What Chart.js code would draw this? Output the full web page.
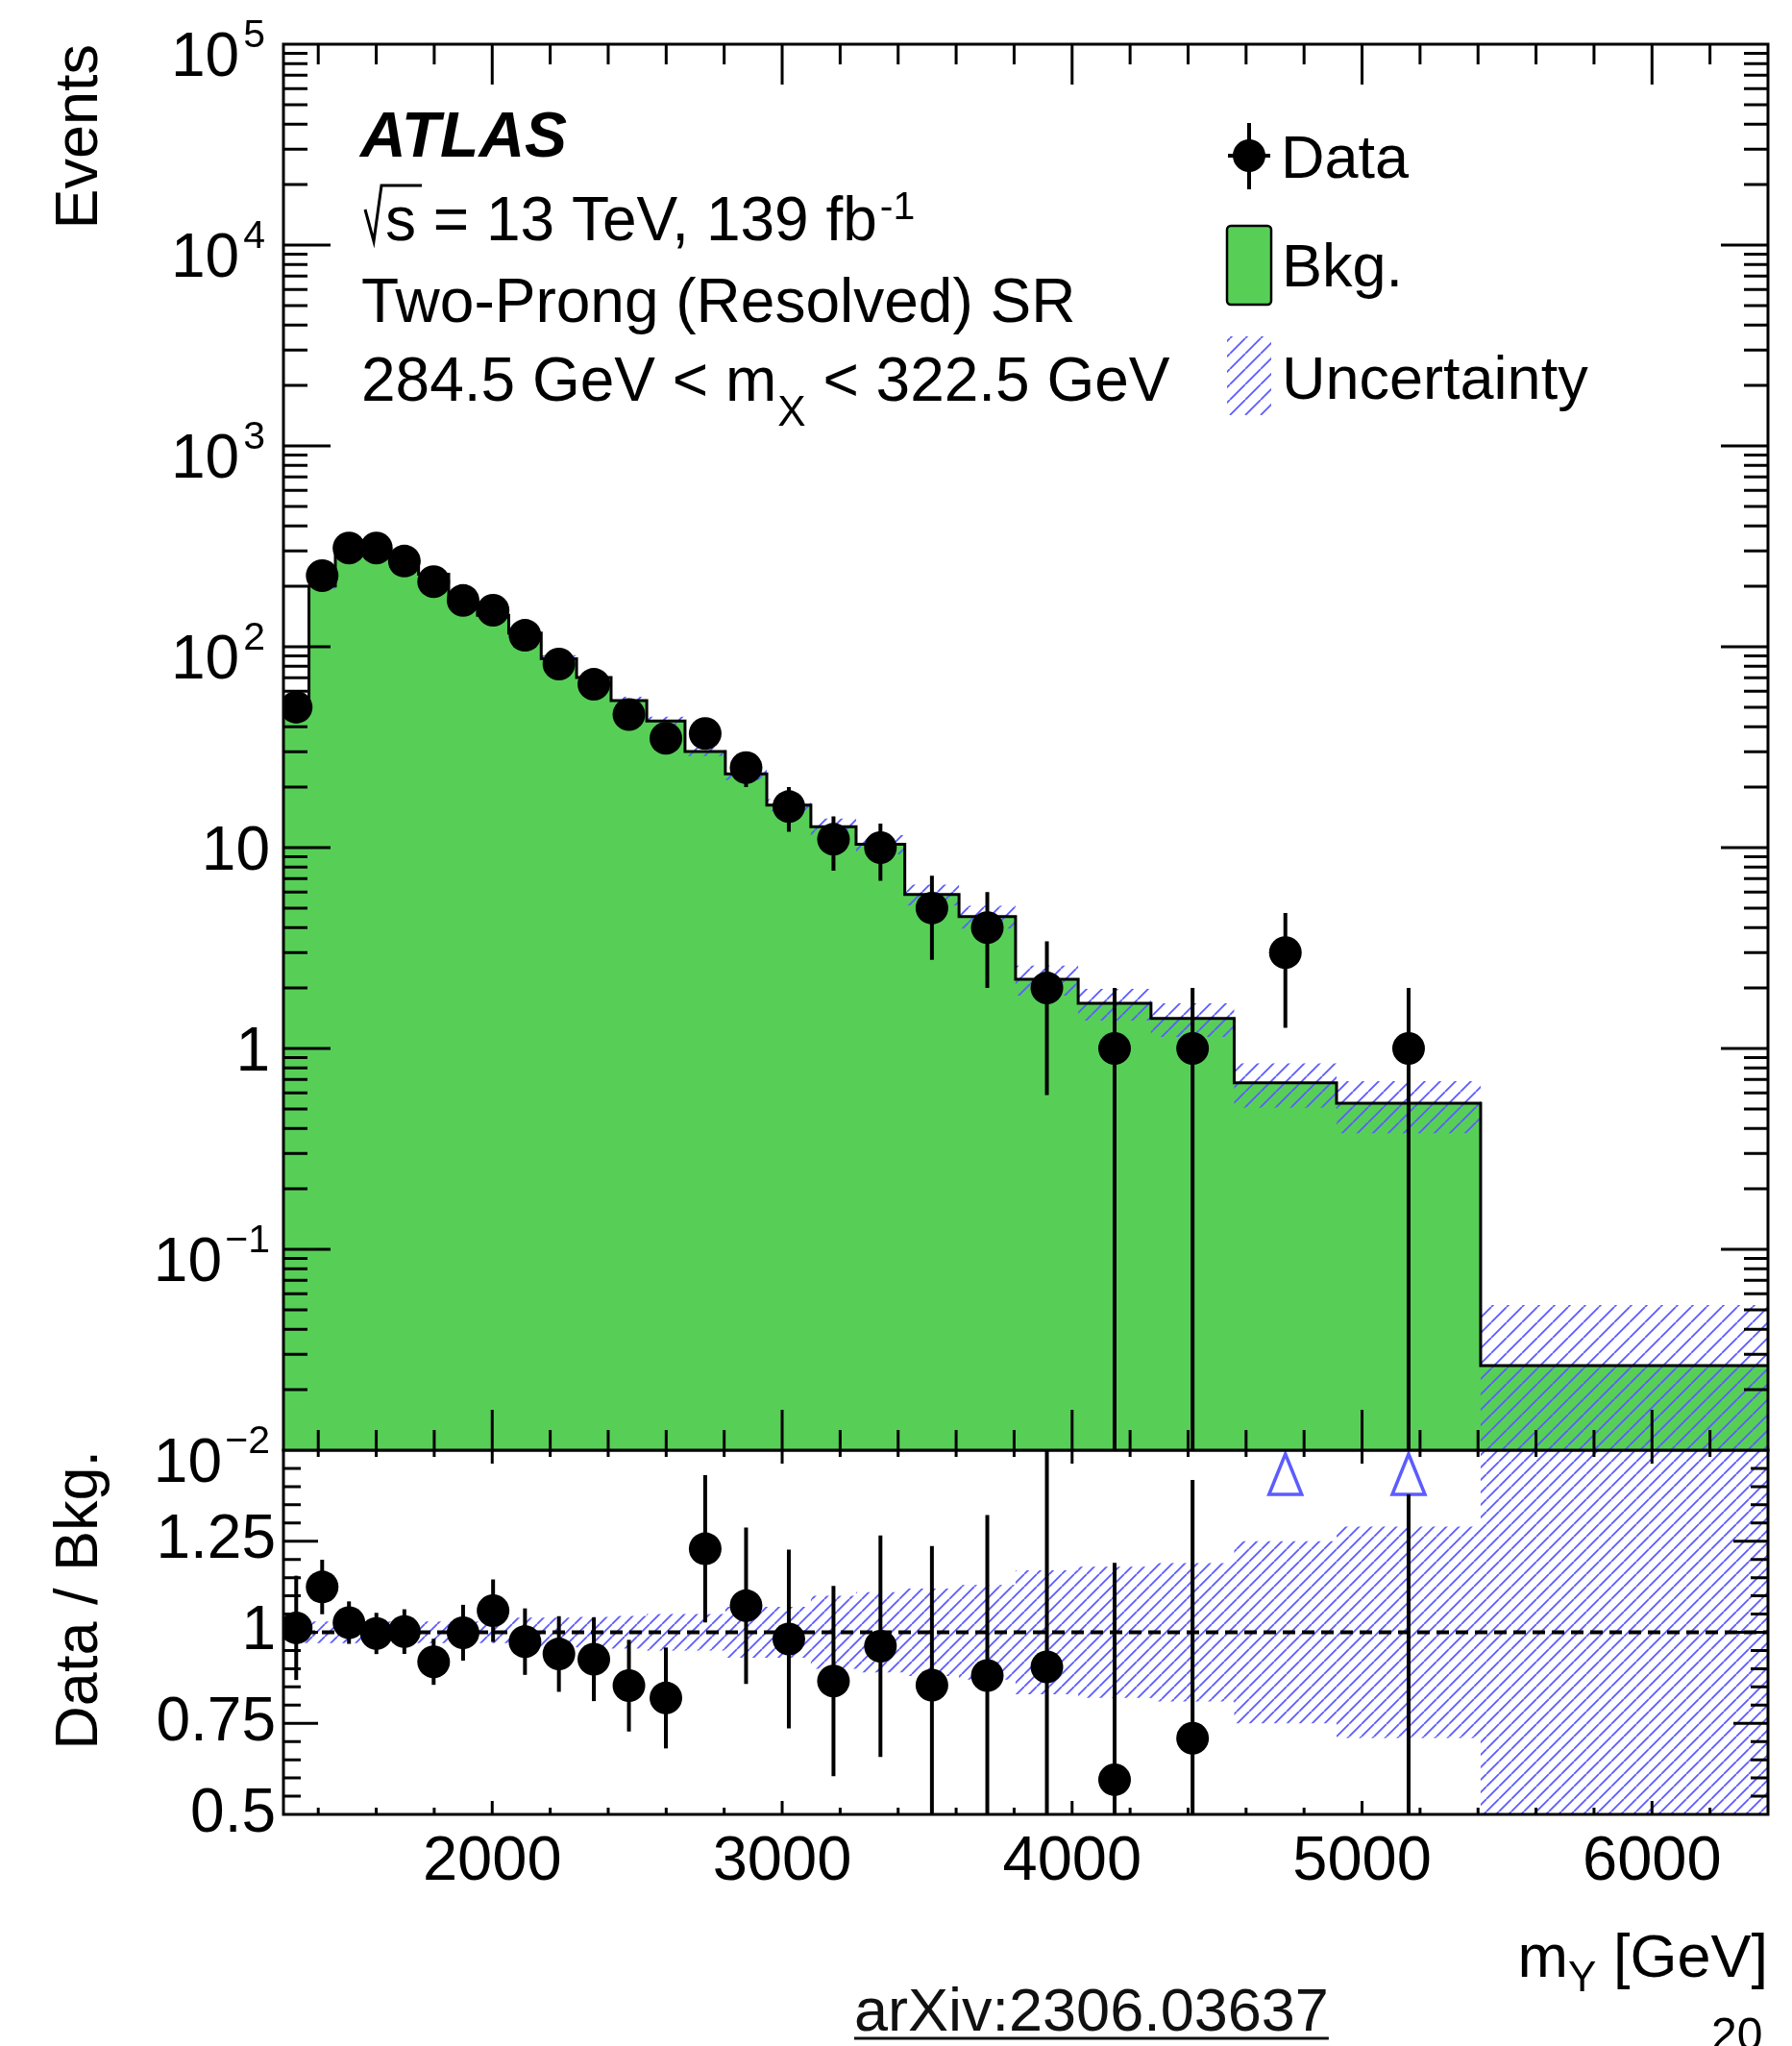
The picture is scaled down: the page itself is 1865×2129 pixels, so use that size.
<!DOCTYPE html>
<html>
<head>
<meta charset="utf-8">
<title>Two-Prong (Resolved) SR – m_Y</title>
<script src="https://cdn.jsdelivr.net/npm/chart.js@4.4.1/dist/chart.umd.min.js"></script>
<style>
  html, body { margin: 0; padding: 0; background: #fff; }
  #page { position: relative; width: 1865px; height: 2129px; overflow: hidden; }
  #page canvas { position: absolute; left: 0; top: 0; }
</style>
</head>
<body>
<div id="page">
  <canvas id="ratioChart" width="1865" height="2129"></canvas>
  <canvas id="mainChart" width="1865" height="2129"></canvas>
</div>
<script>
/* ============================================================
   m_Y spectrum, Two-Prong (Resolved) SR
   ============================================================ */

// variable-width bins [GeV]
var binEdges = [1280, 1368, 1459, 1553, 1648, 1746, 1850, 1949, 2057, 2169, 2291, 2410, 2533,
                2665, 2804, 2947, 3099, 3255, 3423, 3610, 3805, 4021, 4272, 4559, 4912, 5409, 6400];
var dataCounts = [50, 226, 310, 310, 267, 211, 170, 152, 114, 82, 65, 46, 35,
                  37, 25, 16, 11, 10, 5, 4, 2, 1, 1, 3, 1, 0];
var bkgYield = [49.4, 201, 302, 311, 266.5, 229.6, 170.2, 143.5, 117, 87.2, 70.2, 53.9, 42.7,
                30.1, 23.3, 16.3, 12.7, 10.4, 5.85, 4.54, 2.21, 1.68, 1.41, 0.675, 0.533, 0.0264];
var bkgRelUnc = [0.03, 0.03, 0.03, 0.03, 0.03, 0.03, 0.03, 0.03, 0.04, 0.04, 0.042, 0.045, 0.05,
                 0.05, 0.07, 0.07, 0.10, 0.11, 0.12, 0.13, 0.17, 0.18, 0.19, 0.25, 0.29, 1.0];

// axes
var xTickLabels = [2000, 3000, 4000, 5000, 6000];
var logDecades = [-2, -1, 0, 1, 2, 3, 4, 5];
var ratioTickLabels = [0.5, 0.75, 1, 1.25];

var X_MIN = 1280, X_MAX = 6400;
var Y_MIN = 1e-2, Y_MAX = 1e5;
var R_MIN = 0.5, R_MAX = 1.5;

var FONT = '"Liberation Sans", Arial, Helvetica, sans-serif';
var GREEN = '#57cf57';
var HATCH_BLUE = '#5c5cff';

/* ── helpers ─────────────────────────────────────────── */
function font(size, style) { return (style ? style + ' ' : '') + size + 'px ' + FONT; }

function stepPoints(vals) {
    return binEdges.map(function (e, i) { return { x: e, y: vals[Math.min(i, vals.length - 1)] }; });
}

function makeHatch(color, step, width) {
    var c = document.createElement('canvas');
    c.width = step; c.height = step;
    var g = c.getContext('2d');
    g.strokeStyle = color;
    g.lineWidth = width;
    g.beginPath();
    [-step, 0, step].forEach(function (x0) {
        g.moveTo(x0, step);
        g.lineTo(x0 + step, 0);
    });
    g.stroke();
    return g.createPattern(c, 'repeat');
}

var binCenters = dataCounts.map(function (n, i) { return (binEdges[i] + binEdges[i + 1]) / 2; });
var bkgUp = bkgYield.map(function (b, i) { return b * (1 + bkgRelUnc[i]); });
var bkgDown = bkgYield.map(function (b, i) { return Math.max(b * (1 - bkgRelUnc[i]), 1e-4); });
var ratio = dataCounts.map(function (n, i) { return n > 0 ? n / bkgYield[i] : null; });
var ratioErr = dataCounts.map(function (n, i) { return Math.sqrt(n) / bkgYield[i]; });
var ratioUp = bkgRelUnc.map(function (u) { return 1 + u; });
var ratioDown = bkgRelUnc.map(function (u) { return 1 - u; });

// ROOT scales the hatch spacing with the pad, so the big pad is a bit sparser
var hatchMain = makeHatch(HATCH_BLUE, 16, 1.8);
var hatchRatio = makeHatch(HATCH_BLUE, 13, 1.8);

/* ── frame + ROOT style inward ticks ─────────────────── */
function drawFrameAndTicks(chart, t) {
    var ctx = chart.ctx, a = chart.chartArea;
    var xs = chart.scales.x, ys = chart.scales.y;
    ctx.save();
    ctx.strokeStyle = '#000';
    ctx.lineWidth = 3;
    ctx.beginPath();
    for (var v = 1400; v < X_MAX; v += 200) {
        var px = xs.getPixelForValue(v);
        var len = v % 1000 === 0 ? t.xMajor : t.xMinor;
        ctx.moveTo(px, a.top); ctx.lineTo(px, a.top + len);
        ctx.moveTo(px, a.bottom); ctx.lineTo(px, a.bottom - len);
    }
    t.yTicks.forEach(function (tk) {
        var py = ys.getPixelForValue(tk.value);
        ctx.moveTo(a.left, py); ctx.lineTo(a.left + tk.len, py);
        ctx.moveTo(a.right, py); ctx.lineTo(a.right - tk.len, py);
    });
    ctx.stroke();
    ctx.strokeRect(a.left, a.top, a.right - a.left, a.bottom - a.top);
    ctx.restore();
}

var logTicks = [];
for (var d = -2; d <= 4; d++) {
    if (d > -2) logTicks.push({ value: Math.pow(10, d), len: 49 });
    for (var k = 2; k <= 9; k++) logTicks.push({ value: k * Math.pow(10, d), len: 25 });
}
var ratioTicks = [];
for (var j = 1; j < 20; j++) {
    ratioTicks.push({ value: R_MIN + j * 0.05, len: j % 5 === 0 ? 36 : 18 });
}

/* ── main panel decorations ──────────────────────────── */
var mainDecor = {
    id: 'mainDecor',
    afterDatasetsDraw: function (chart) {
        var ctx = chart.ctx, a = chart.chartArea, x = chart.scales.x, y = chart.scales.y;
        ctx.save();
        ctx.beginPath();
        ctx.rect(a.left, a.top, a.right - a.left, a.bottom - a.top);
        ctx.clip();
        ctx.strokeStyle = '#000';
        ctx.lineWidth = 4;
        ctx.beginPath();
        dataCounts.forEach(function (n, i) {
            if (!n) return;
            var err = Math.sqrt(n);
            var px = x.getPixelForValue(binCenters[i]);
            var hi = y.getPixelForValue(n + err);
            var lo = n - err > 0 ? y.getPixelForValue(n - err) : a.bottom;
            ctx.moveTo(px, hi); ctx.lineTo(px, lo);
        });
        ctx.stroke();
        ctx.restore();
    },
    afterDraw: function (chart) {
        var ctx = chart.ctx, y = chart.scales.y;
        drawFrameAndTicks(chart, { xMajor: 42, xMinor: 21, yTicks: logTicks });

        ctx.save();
        ctx.fillStyle = '#000';
        ctx.strokeStyle = '#000';
        ctx.textBaseline = 'alphabetic';

        // y labels 10^n
        ctx.textAlign = 'right';
        logDecades.forEach(function (e) {
            var py = y.getPixelForValue(Math.pow(10, e));
            if (e === 0 || e === 1) {
                ctx.font = font(64);
                ctx.fillText(e === 0 ? '1' : '10', 281, py + 23);
                return;
            }
            var exp = e < 0 ? '\u2212' + (-e) : String(e);
            var expRight = e < 0 ? 281 : 276;
            ctx.font = font(41);
            ctx.fillText(exp, expRight, py + 3);
            var ew = ctx.measureText(exp).width;
            ctx.font = font(64);
            ctx.fillText('10', e < 0 ? 231 : expRight - ew - 4, py + 33);
        });

        // ATLAS label block
        ctx.textAlign = 'left';
        ctx.font = font(66, 'italic bold');
        ctx.fillText('ATLAS', 375, 163);

        ctx.lineWidth = 3;
        ctx.beginPath();
        ctx.moveTo(380, 218); ctx.lineTo(389, 251); ctx.lineTo(397, 193); ctx.lineTo(439, 193);
        ctx.stroke();
        ctx.font = font(64);
        var l2 = 's = 13 TeV, 139 fb';
        ctx.fillText(l2, 401, 250);
        var w2 = ctx.measureText(l2).width;
        ctx.font = font(41);
        ctx.fillText('-1', 401 + w2 + 3, 228);

        ctx.font = font(64);
        ctx.fillText('Two-Prong (Resolved) SR', 376, 335);

        var xx = 376;
        var p1 = '284.5 GeV < m';
        ctx.fillText(p1, xx, 417);
        xx += ctx.measureText(p1).width + 1;
        ctx.font = font(44);
        ctx.fillText('X', xx, 443);
        xx += ctx.measureText('X').width;
        ctx.font = font(64);
        ctx.fillText(' < 322.5 GeV', xx, 417);

        // legend
        ctx.font = font(63);
        ctx.lineWidth = 4;
        ctx.beginPath();
        ctx.moveTo(1300, 128); ctx.lineTo(1300, 197);
        ctx.moveTo(1278, 162); ctx.lineTo(1322, 162);
        ctx.stroke();
        ctx.beginPath();
        ctx.arc(1300, 162, 17, 0, 2 * Math.PI);
        ctx.fill();
        ctx.fillText('Data', 1333, 185);

        ctx.fillStyle = GREEN;
        ctx.lineWidth = 2.5;
        ctx.beginPath();
        if (ctx.roundRect) ctx.roundRect(1277, 235, 46, 82, 4); else ctx.rect(1277, 235, 46, 82);
        ctx.fill();
        ctx.stroke();
        ctx.fillStyle = '#000';
        ctx.fillText('Bkg.', 1334, 298);

        ctx.fillStyle = hatchMain;
        ctx.fillRect(1277, 350, 46, 82);
        ctx.fillStyle = '#000';
        ctx.fillText('Uncertainty', 1334, 415);
        ctx.restore();
    }
};

/* ── ratio panel decorations ─────────────────────────── */
var ratioDecor = {
    id: 'ratioDecor',
    afterDatasetsDraw: function (chart) {
        var ctx = chart.ctx, a = chart.chartArea, x = chart.scales.x, y = chart.scales.y;
        ctx.save();
        ctx.beginPath();
        ctx.rect(a.left, a.top, a.right - a.left, a.bottom - a.top);
        ctx.clip();
        dataCounts.forEach(function (n, i) {
            if (!n) return;
            var r = ratio[i], e = ratioErr[i];
            var px = x.getPixelForValue(binCenters[i]);
            var top, bottom = r - e > R_MIN ? y.getPixelForValue(r - e) : a.bottom;
            if (r > R_MAX) {
                // off-scale: open arrow at the top
                ctx.strokeStyle = HATCH_BLUE;
                ctx.lineWidth = 3.5;
                ctx.beginPath();
                ctx.moveTo(px, a.top + 4);
                ctx.lineTo(px + 17, a.top + 46);
                ctx.lineTo(px - 17, a.top + 46);
                ctx.closePath();
                ctx.stroke();
                if (r - e >= R_MAX) return;
                top = a.top + 46;
            } else {
                top = y.getPixelForValue(r + e);
            }
            ctx.strokeStyle = '#000';
            ctx.lineWidth = 4;
            ctx.beginPath();
            ctx.moveTo(px, top); ctx.lineTo(px, bottom);
            ctx.stroke();
        });
        ctx.restore();
    },
    afterDraw: function (chart) {
        var ctx = chart.ctx, a = chart.chartArea;
        drawFrameAndTicks(chart, { xMajor: 14, xMinor: 7, yTicks: ratioTicks });

        ctx.save();
        ctx.fillStyle = '#000';
        ctx.strokeStyle = '#000';
        ctx.textBaseline = 'alphabetic';

        // x title m_Y [GeV], right aligned to the axis end
        ctx.textAlign = 'right';
        ctx.font = font(63);
        ctx.fillText(' [GeV]', a.right, 2057);
        var w = ctx.measureText(' [GeV]').width;
        ctx.font = font(44);
        ctx.fillText('Y', a.right - w, 2072);
        w += ctx.measureText('Y').width;
        ctx.font = font(63);
        ctx.fillText('m', a.right - w, 2057);

        // reference + page number
        ctx.textAlign = 'left';
        ctx.fillStyle = '#111';
        ctx.font = font(63);
        var ref = 'arXiv:2306.03637';
        ctx.fillText(ref, 889, 2113);
        ctx.lineWidth = 3;
        ctx.beginPath();
        ctx.moveTo(889, 2121); ctx.lineTo(889 + ctx.measureText(ref).width, 2121);
        ctx.strokeStyle = '#111';
        ctx.stroke();
        ctx.fillStyle = '#000';
        ctx.font = font(48);
        ctx.fillText('20', 1781, 2133);
        ctx.restore();
    }
};

var common = {
    animation: false,
    responsive: false,
    events: [],
    plugins: { legend: { display: false }, tooltip: { enabled: false } }
};

/* ── main panel ──────────────────────────────────────── */
new Chart(document.getElementById('mainChart'), {
    type: 'line',
    data: {
        datasets: [
            {
                label: 'Data',
                data: binCenters.map(function (c, i) { return { x: c, y: dataCounts[i] > 0 ? dataCounts[i] : null }; }),
                showLine: false, pointRadius: 17, pointBackgroundColor: '#000', pointBorderWidth: 0,
                order: 0, clip: 0
            },
            {
                label: 'Bkg. outline',
                data: stepPoints(bkgYield), stepped: 'before',
                borderColor: '#000', borderWidth: 3, pointRadius: 0, fill: false,
                order: 1, clip: 0
            },
            {
                label: 'Uncertainty',
                data: stepPoints(bkgUp), stepped: 'before',
                borderColor: 'rgba(0,0,0,0)', borderWidth: 0, pointRadius: 0,
                fill: '+1', backgroundColor: hatchMain,
                order: 2, clip: 0
            },
            {
                label: 'Uncertainty low',
                data: stepPoints(bkgDown), stepped: 'before',
                borderColor: 'rgba(0,0,0,0)', borderWidth: 0, pointRadius: 0, fill: false,
                order: 3, clip: 0
            },
            {
                label: 'Bkg.',
                data: stepPoints(bkgYield), stepped: 'before',
                borderColor: 'rgba(0,0,0,0)', borderWidth: 0, pointRadius: 0,
                fill: 'start', backgroundColor: GREEN,
                order: 4, clip: 0
            }
        ]
    },
    options: Object.assign({}, common, {
        layout: { padding: { top: 46, right: 25, bottom: 620, left: 0 } },
        scales: {
            x: { type: 'linear', min: X_MIN, max: X_MAX, display: false },
            y: {
                type: 'logarithmic', min: Y_MIN, max: Y_MAX,
                grid: { display: false, drawTicks: false },
                border: { display: false },
                ticks: { display: false },
                title: {
                    display: true, text: 'Events', align: 'end', color: '#000',
                    font: { family: FONT, size: 63 }, padding: { top: 46, bottom: 0 }
                },
                afterFit: function (s) { s.width = 295; }
            }
        }
    }),
    plugins: [mainDecor]
});

/* ── ratio panel ─────────────────────────────────────── */
new Chart(document.getElementById('ratioChart'), {
    type: 'line',
    data: {
        datasets: [
            {
                label: 'Data / Bkg.',
                data: binCenters.map(function (c, i) { return { x: c, y: ratio[i] }; }),
                showLine: false, pointRadius: 17, pointBackgroundColor: '#000', pointBorderWidth: 0,
                order: 0, clip: 0
            },
            {
                label: 'Unity',
                data: [{ x: X_MIN, y: 1 }, { x: X_MAX, y: 1 }],
                borderColor: '#000', borderWidth: 4, borderDash: [13, 7], pointRadius: 0, fill: false,
                order: 1, clip: 0
            },
            {
                label: 'Uncertainty',
                data: stepPoints(ratioUp), stepped: 'before',
                borderColor: 'rgba(0,0,0,0)', borderWidth: 0, pointRadius: 0,
                fill: '+1', backgroundColor: hatchRatio,
                order: 2, clip: 0
            },
            {
                label: 'Uncertainty low',
                data: stepPoints(ratioDown), stepped: 'before',
                borderColor: 'rgba(0,0,0,0)', borderWidth: 0, pointRadius: 0, fill: false,
                order: 3, clip: 0
            }
        ]
    },
    options: Object.assign({}, common, {
        layout: { padding: { top: 1509, right: 25, bottom: 141, left: 0 } },
        scales: {
            x: {
                type: 'linear', min: X_MIN, max: X_MAX,
                grid: { display: false, drawTicks: false },
                border: { display: false },
                ticks: {
                    color: '#000', font: { family: FONT, size: 65 }, padding: 11,
                    maxRotation: 0, autoSkip: false,
                    callback: function (v) { return String(v); }
                },
                afterBuildTicks: function (s) { s.ticks = xTickLabels.map(function (v) { return { value: v }; }); },
                afterFit: function (s) { s.height = 100; }
            },
            y: {
                type: 'linear', min: R_MIN, max: R_MAX,
                grid: { display: false, drawTicks: false },
                border: { display: false },
                ticks: {
                    color: '#000', font: { family: FONT, size: 64 }, padding: 8,
                    callback: function (v) { return String(v); }
                },
                afterBuildTicks: function (s) { s.ticks = ratioTickLabels.map(function (v) { return { value: v }; }); },
                title: {
                    display: true, text: 'Data / Bkg.', align: 'end', color: '#000',
                    font: { family: FONT, size: 63 }, padding: { top: 46, bottom: 0 }
                },
                afterFit: function (s) { s.width = 295; }
            }
        }
    }),
    plugins: [ratioDecor]
});
</script>
</body>
</html>
